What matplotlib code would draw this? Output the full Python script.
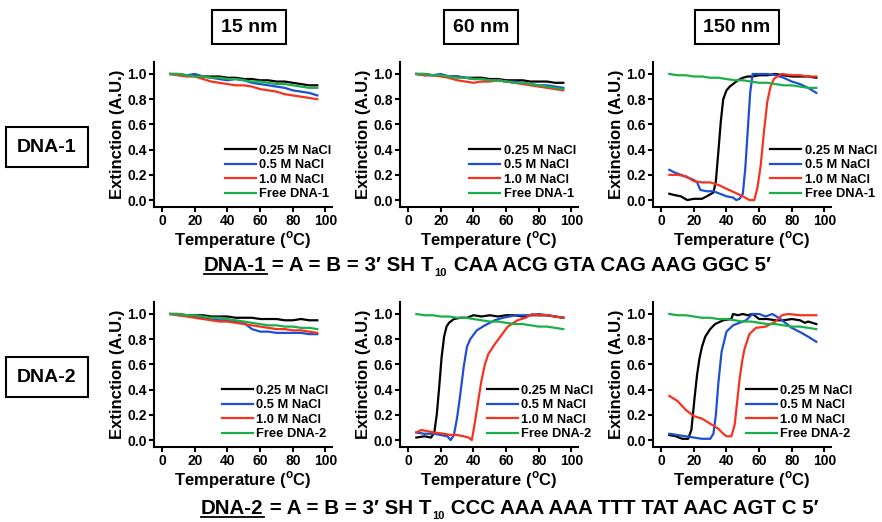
import matplotlib
matplotlib.use("Agg")
import matplotlib.pyplot as plt

plt.rcParams['font.family'] = ['Liberation Sans', 'DejaVu Sans']
plt.rcParams['font.weight'] = 'bold'
plt.rcParams['axes.labelweight'] = 'bold'
plt.rcParams['mathtext.fontset'] = 'custom'
plt.rcParams['mathtext.rm'] = 'Liberation Sans:bold'
plt.rcParams['mathtext.bf'] = 'Liberation Sans:bold'

# Temperaturas comunes para las curvas planas
t_flat = [5, 10, 15, 20, 25, 30, 35, 40, 45, 50, 55, 60, 65, 70, 75, 80, 85, 90, 95]

# DNA-1, 15 nm
d1_15_025 = [1.00, 1.00, 0.99, 0.99, 0.98, 0.98, 0.98, 0.97, 0.97, 0.96, 0.96, 0.95, 0.95, 0.94, 0.94, 0.93, 0.92, 0.91, 0.91]
d1_15_05 = [1.00, 0.99, 0.99, 1.00, 0.98, 0.97, 0.96, 0.95, 0.96, 0.95, 0.93, 0.92, 0.91, 0.90, 0.89, 0.87, 0.86, 0.85, 0.83]
d1_15_10 = [1.00, 0.99, 0.98, 0.98, 0.96, 0.94, 0.93, 0.92, 0.91, 0.91, 0.90, 0.88, 0.87, 0.86, 0.84, 0.83, 0.82, 0.81, 0.80]
d1_15_free = [1.00, 1.00, 0.99, 0.98, 0.98, 0.97, 0.97, 0.96, 0.96, 0.95, 0.94, 0.94, 0.93, 0.92, 0.92, 0.91, 0.90, 0.89, 0.89]

# DNA-1, 60 nm
d1_60_025 = [1.00, 1.00, 0.99, 0.99, 0.98, 0.98, 0.97, 0.97, 0.97, 0.96, 0.96, 0.95, 0.95, 0.95, 0.94, 0.94, 0.94, 0.93, 0.93]
d1_60_05 = [1.00, 0.99, 0.99, 1.00, 0.98, 0.98, 0.97, 0.96, 0.96, 0.95, 0.95, 0.94, 0.94, 0.93, 0.92, 0.91, 0.91, 0.90, 0.89]
d1_60_10 = [1.00, 0.99, 0.99, 0.98, 0.97, 0.95, 0.94, 0.93, 0.94, 0.94, 0.95, 0.94, 0.93, 0.92, 0.91, 0.90, 0.89, 0.88, 0.87]
d1_60_free = [1.00, 1.00, 0.99, 0.99, 0.98, 0.97, 0.97, 0.96, 0.96, 0.95, 0.95, 0.94, 0.93, 0.93, 0.92, 0.91, 0.90, 0.89, 0.88]

# DNA-1, 150 nm
t1_150_025 = [5, 8, 12, 16, 20, 25, 28, 32, 33.5, 35, 36.5, 38, 40, 42, 44, 47, 50, 53, 56, 60, 65, 70, 75, 80, 85, 90, 95]
d1_150_025 = [0.05, 0.04, 0.03, 0.00, 0.01, 0.01, 0.03, 0.06, 0.15, 0.38, 0.62, 0.80, 0.87, 0.90, 0.92, 0.95, 0.97, 0.98, 0.98, 0.99, 0.99, 1.00, 0.99, 0.98, 0.98, 0.98, 0.97]
t1_150_05 = [5, 8, 12, 16, 20, 22, 24, 28, 32, 36, 40, 44, 46, 48, 50, 51.5, 53, 54.5, 56, 60, 65, 70, 75, 80, 85, 90, 95]
d1_150_05 = [0.24, 0.22, 0.20, 0.18, 0.16, 0.14, 0.08, 0.07, 0.07, 0.05, 0.03, 0.02, 0.00, 0.01, 0.05, 0.25, 0.55, 0.85, 1.00, 1.00, 1.00, 0.99, 0.97, 0.94, 0.92, 0.89, 0.85]
t1_150_10 = [5, 10, 15, 20, 25, 30, 35, 40, 45, 50, 54, 57, 59, 61, 63, 65, 67, 69, 71, 74, 80, 85, 90, 95]
d1_150_10 = [0.20, 0.20, 0.19, 0.15, 0.14, 0.14, 0.12, 0.09, 0.06, 0.03, 0.00, 0.00, 0.10, 0.28, 0.55, 0.78, 0.90, 0.96, 0.98, 1.00, 0.99, 0.99, 0.98, 0.98]
d1_150_free = [1.00, 0.99, 0.99, 0.98, 0.98, 0.97, 0.97, 0.96, 0.95, 0.95, 0.94, 0.93, 0.93, 0.92, 0.91, 0.91, 0.90, 0.89, 0.89]

# DNA-2, 15 nm
d2_15_025 = [1.00, 1.00, 0.99, 0.99, 0.99, 0.98, 0.98, 0.98, 0.97, 0.97, 0.97, 0.96, 0.96, 0.96, 0.95, 0.95, 0.96, 0.95, 0.95]
d2_15_05 = [1.00, 0.99, 0.99, 0.98, 0.97, 0.96, 0.95, 0.95, 0.94, 0.93, 0.88, 0.86, 0.86, 0.85, 0.85, 0.85, 0.85, 0.84, 0.84]
d2_15_10 = [1.00, 0.99, 0.98, 0.97, 0.96, 0.95, 0.94, 0.94, 0.93, 0.92, 0.91, 0.90, 0.89, 0.88, 0.88, 0.87, 0.87, 0.86, 0.85]
d2_15_free = [1.00, 1.00, 0.99, 0.99, 0.98, 0.97, 0.97, 0.96, 0.95, 0.94, 0.93, 0.92, 0.91, 0.91, 0.90, 0.90, 0.89, 0.89, 0.88]

# DNA-2, 60 nm
t2_60_025 = [5, 10, 14, 16, 17.5, 19, 20.5, 22, 23.5, 25, 28, 32, 36, 40, 45, 50, 55, 60, 65, 70, 75, 80, 85, 90, 95]
d2_60_025 = [0.02, 0.03, 0.02, 0.06, 0.20, 0.42, 0.66, 0.82, 0.90, 0.93, 0.96, 0.97, 0.97, 0.99, 0.98, 0.99, 0.98, 0.99, 0.99, 0.98, 0.99, 0.99, 0.99, 0.98, 0.97]
t2_60_05 = [5, 10, 16, 20, 24, 26, 28, 30, 32, 34, 36, 38, 42, 47, 53, 58, 62, 66, 70, 75, 80, 85, 90, 95]
d2_60_05 = [0.06, 0.05, 0.05, 0.04, 0.03, 0.00, 0.04, 0.18, 0.37, 0.58, 0.74, 0.80, 0.87, 0.91, 0.95, 0.97, 0.98, 0.99, 0.99, 0.99, 1.00, 0.99, 0.98, 0.97]
t2_60_10 = [5, 8, 12, 16, 22, 26, 30, 34, 37, 39, 41, 43, 45, 47, 49, 53, 57, 61, 67, 72, 76, 80, 85, 90, 95]
d2_60_10 = [0.06, 0.08, 0.07, 0.06, 0.05, 0.04, 0.04, 0.03, 0.02, 0.00, 0.15, 0.32, 0.48, 0.60, 0.68, 0.76, 0.83, 0.90, 0.95, 0.97, 1.00, 0.99, 0.99, 0.98, 0.97]
d2_60_free = [1.00, 0.99, 0.99, 0.98, 0.98, 0.97, 0.97, 0.96, 0.95, 0.94, 0.94, 0.93, 0.92, 0.92, 0.91, 0.90, 0.90, 0.89, 0.88]

# DNA-2, 150 nm
t2_150_025 = [5, 9, 13, 16.5, 18.5, 20.5, 22, 23.5, 25, 27, 30, 33, 38, 43, 44, 47, 50, 53, 56, 60, 65, 70, 75, 80, 85, 88, 90, 95]
d2_150_025 = [0.04, 0.03, 0.01, 0.01, 0.08, 0.34, 0.52, 0.65, 0.74, 0.82, 0.88, 0.92, 0.95, 0.96, 1.00, 0.99, 1.00, 0.99, 1.00, 0.96, 0.96, 0.95, 0.95, 0.96, 0.95, 0.93, 0.94, 0.92]
t2_150_05 = [5, 10, 15, 20, 25, 30, 32, 33.5, 35, 37, 40, 44, 48, 52, 56, 60, 64, 68, 72, 76, 80, 86, 90, 95]
d2_150_05 = [0.05, 0.04, 0.03, 0.02, 0.01, 0.01, 0.05, 0.20, 0.45, 0.70, 0.86, 0.91, 0.93, 0.95, 1.00, 1.00, 0.98, 1.00, 0.97, 0.93, 0.89, 0.85, 0.82, 0.78]
t2_150_10 = [5, 10, 15, 20, 25, 30, 35, 38, 40, 43, 45, 46.5, 48, 49.5, 51, 54, 58, 64, 70, 74, 78, 85, 90, 95]
d2_150_10 = [0.35, 0.31, 0.24, 0.19, 0.17, 0.13, 0.09, 0.05, 0.03, 0.03, 0.12, 0.30, 0.48, 0.62, 0.72, 0.84, 0.89, 0.90, 0.94, 0.99, 1.00, 0.99, 0.99, 0.99]
d2_150_free = [1.00, 0.99, 0.99, 0.98, 0.97, 0.97, 0.96, 0.96, 0.95, 0.94, 0.94, 0.93, 0.92, 0.92, 0.91, 0.90, 0.90, 0.89, 0.88]

sizes = ['15 nm', '60 nm', '150 nm']
dna_names = ['DNA-1', 'DNA-2']
labels_salt = ['0.25 M NaCl', '0.5 M NaCl', '1.0 M NaCl']
colors = ['black', '#1f4fd1', '#f5331f', '#19b04a']
seq1 = ' CAA ACG GTA CAG AAG GGC 5\u2032'
seq2 = ' CCC AAA AAA TTT TAT AAC AGT C 5\u2032'

# (fila, columna) -> series (temperaturas, valores)
panels = {
    (0, 0): [(t_flat, d1_15_025), (t_flat, d1_15_05), (t_flat, d1_15_10), (t_flat, d1_15_free)],
    (0, 1): [(t_flat, d1_60_025), (t_flat, d1_60_05), (t_flat, d1_60_10), (t_flat, d1_60_free)],
    (0, 2): [(t1_150_025, d1_150_025), (t1_150_05, d1_150_05), (t1_150_10, d1_150_10), (t_flat, d1_150_free)],
    (1, 0): [(t_flat, d2_15_025), (t_flat, d2_15_05), (t_flat, d2_15_10), (t_flat, d2_15_free)],
    (1, 1): [(t2_60_025, d2_60_025), (t2_60_05, d2_60_05), (t2_60_10, d2_60_10), (t_flat, d2_60_free)],
    (1, 2): [(t2_150_025, d2_150_025), (t2_150_05, d2_150_05), (t2_150_10, d2_150_10), (t_flat, d2_150_free)],
}
legend_x = {(0, 0): 0.40, (0, 1): 0.39, (0, 2): 0.66, (1, 0): 0.38, (1, 1): 0.49, (1, 2): 0.52}

W, H = 882, 522
fig = plt.figure(figsize=(W / 100, H / 100), dpi=100)

# capa de fondo para textos y cajas
ax0 = fig.add_axes([0, 0, 1, 1])
ax0.set_xlim(0, W)
ax0.set_ylim(H, 0)
ax0.axis('off')

lefts = [154, 400, 653]
bottoms = [207, 447]
for (r, c), series in panels.items():
    ax = fig.add_axes([lefts[c] / W, 1 - bottoms[r] / H, 178 / W, 145 / H])
    names = labels_salt + ['Free ' + dna_names[r]]
    for (t, e), col, lab in zip(series, colors, names):
        ax.plot(t, e, color=col, lw=1.6, label=lab)
    ax.set_xlim(-5, 104)
    ax.set_ylim(-0.055, 1.095)
    ax.set_xticks([0, 20, 40, 60, 80, 100])
    ax.set_yticks([0, 0.2, 0.4, 0.6, 0.8, 1.0])
    ax.set_yticklabels(['0.0', '0.2', '0.4', '0.6', '0.8', '1.0'])
    for s in ['top', 'right']:
        ax.spines[s].set_visible(False)
    for s in ['left', 'bottom']:
        ax.spines[s].set_linewidth(1.5)
    ax.tick_params(direction='out', length=3.5, width=1.5, labelsize=10, pad=1.5)
    ax.set_xlabel('Temperature ($^{\\rm o}$C)', fontsize=12, labelpad=1)
    ax.set_ylabel('Extinction (A.U.)', fontsize=12, labelpad=2)
    ax.legend(loc='lower left', bbox_to_anchor=(legend_x[(r, c)], 0.045), frameon=False,
              prop={'weight': 'bold', 'size': 9.3}, handlelength=2.4, handletextpad=0.25,
              labelspacing=0.2, borderpad=0, borderaxespad=0)

box = dict(boxstyle='square,pad=0.45', fc='white', ec='black', lw=1.5)
for x, s in zip([249, 481, 737], sizes):
    ax0.text(x, 27, s, fontsize=14, ha='center', va='center', bbox=box)
box2 = dict(boxstyle='square,pad=0.6', fc='white', ec='black', lw=1.5)
for y, s in zip([147, 377], dna_names):
    ax0.text(47, y, s, fontsize=14, ha='center', va='center', bbox=box2)

# líneas de secuencia
under = []
for x, y, name, seq in [(204, 271, 'DNA-1', seq1), (201, 514, 'DNA-2', seq2)]:
    t1 = ax0.text(x, y, name, fontsize=14.8, ha='left', va='baseline')
    t2 = ax0.annotate(' = A = B = 3\u2032 SH T', xy=(1, 0), xycoords=t1, fontsize=14.8, ha='left', va='bottom')
    t3 = ax0.annotate('10', xy=(1, 0), xycoords=t2, xytext=(0.5, -2), textcoords='offset points',
                      fontsize=8, ha='left', va='bottom')
    ax0.annotate(seq, xy=(1, 0), xycoords=t2, xytext=(10, 0), textcoords='offset points',
                 fontsize=14.8, ha='left', va='bottom')
    under.append((t1, y))

fig.canvas.draw()
inv = ax0.transData.inverted()
for t, y in under:
    bb = t.get_window_extent()
    x0 = inv.transform((bb.x0, bb.y0))[0]
    x1 = inv.transform((bb.x1, bb.y0))[0]
    ax0.plot([x0, x1], [y + 2.5, y + 2.5], color='black', lw=1.3)

fig.savefig('out.png', dpi=100)
